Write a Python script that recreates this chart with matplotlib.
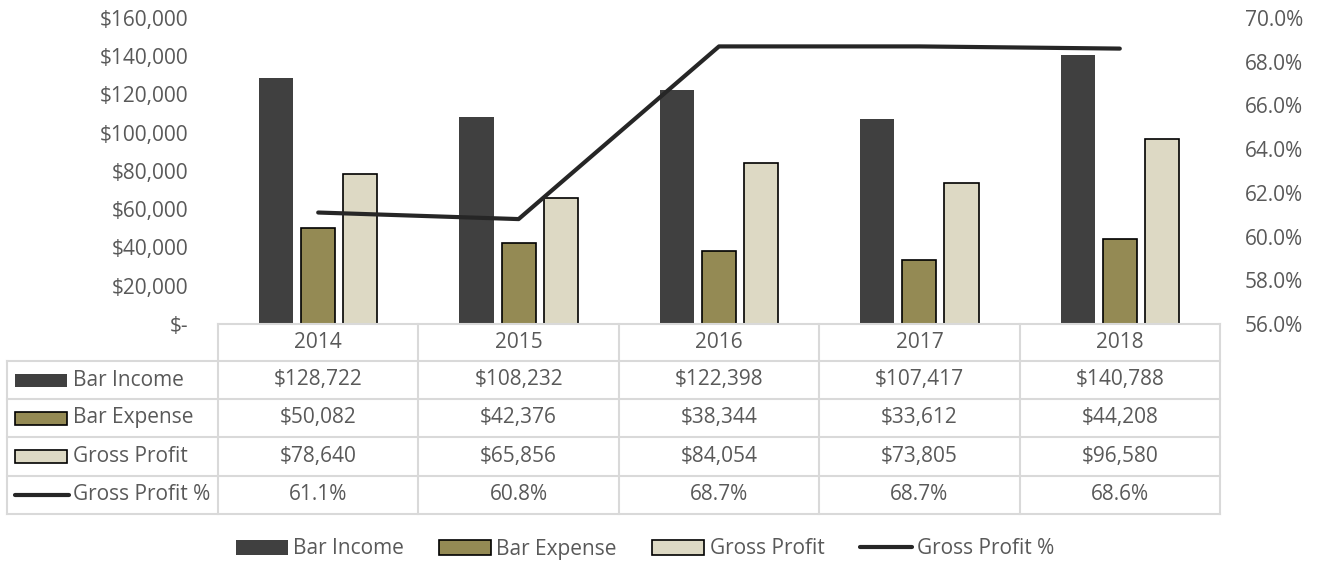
import matplotlib
matplotlib.use('Agg')
import matplotlib.pyplot as plt
from matplotlib.patches import Patch, Rectangle
from matplotlib.lines import Line2D
from matplotlib.ticker import FuncFormatter
import numpy as np

years = ['2014', '2015', '2016', '2017', '2018']
bar_income = [128722, 108232, 122398, 107417, 140788]
bar_expense = [50082, 42376, 38344, 33612, 44208]
gross_profit = [78640, 65856, 84054, 73805, 96580]
gross_profit_pct = [61.1, 60.8, 68.7, 68.7, 68.6]

series_names = ['Bar Income', 'Bar Expense', 'Gross Profit', 'Gross Profit %']

C_INC = '#404040'
C_EXP = '#948A54'
C_GP = '#DDD9C4'
C_LINE = '#262626'
TXT = '#595959'
GRID = '#D9D9D9'

plt.rcParams['font.family'] = ['Open Sans', 'DejaVu Sans']
FS = 15

W, H = 1320, 567
fig = plt.figure(figsize=(W / 100, H / 100), dpi=100)

# plot area in pixels
L, R, T, B = 218, 1220, 18, 324
ax = fig.add_axes([L / W, 1 - B / H, (R - L) / W, (B - T) / H])
x = np.arange(len(years))
bw = 0.17
off = 0.21
ax.bar(x - off, bar_income, bw, color=C_INC, zorder=2)
ax.bar(x, bar_expense, bw, color=C_EXP, edgecolor='black', linewidth=1.2, zorder=2)
ax.bar(x + off, gross_profit, bw, color=C_GP, edgecolor='black', linewidth=1.2, zorder=2)
ax.set_xlim(-0.5, len(years) - 0.5)
ax.set_ylim(0, 160000)
ax.set_yticks(np.arange(0, 160001, 20000))
ax.yaxis.set_major_formatter(FuncFormatter(lambda v, p: '$-' if v == 0 else f'${v:,.0f}'))
ax.set_xticks([])
for s in ax.spines.values():
    s.set_visible(False)
ax.tick_params(axis='y', length=0, labelsize=FS, labelcolor=TXT, pad=21.5)

ax2 = ax.twinx()
ax2.plot(x, gross_profit_pct, color=C_LINE, lw=3, solid_capstyle='round', zorder=3)
ax2.set_ylim(56, 70)
ax2.set_yticks(np.arange(56, 70.1, 2))
ax2.yaxis.set_major_formatter(FuncFormatter(lambda v, p: f'{v:.1f}%'))
for s in ax2.spines.values():
    s.set_visible(False)
ax2.tick_params(axis='y', length=0, labelsize=FS, labelcolor=TXT, pad=18)

# data table drawn on an overlay in pixel coords
tab = fig.add_axes([0, 0, 1, 1])
tab.set_xlim(0, W)
tab.set_ylim(H, 0)
tab.axis('off')
tab.patch.set_alpha(0)

rows_y = [324, 361, 399, 437, 476, 514]
col_x = np.linspace(L, R, len(years) + 1)
left = 7
lkw = dict(color=GRID, lw=1.5, zorder=1)
# header row
tab.plot([L, R], [rows_y[0], rows_y[0]], **lkw)
for yy in rows_y[1:]:
    tab.plot([left, R], [yy, yy], **lkw)
for cx in col_x:
    tab.plot([cx, cx], [rows_y[0], rows_y[-1]], **lkw)
tab.plot([left, left], [rows_y[1], rows_y[-1]], **lkw)

centers = (col_x[:-1] + col_x[1:]) / 2
for i, yr in enumerate(years):
    tab.text(centers[i], (rows_y[0] + rows_y[1]) / 2, yr, ha='center', va='center',
             fontsize=FS, color=TXT)

table_vals = [
    [f'${v:,.0f}' for v in bar_income],
    [f'${v:,.0f}' for v in bar_expense],
    [f'${v:,.0f}' for v in gross_profit],
    [f'{v:.1f}%' for v in gross_profit_pct],
]
sym = [
    dict(fc=C_INC, ec='none'),
    dict(fc=C_EXP, ec='black'),
    dict(fc=C_GP, ec='black'),
    None,
]
for r in range(4):
    yc = (rows_y[r + 1] + rows_y[r + 2]) / 2
    if sym[r] is None:
        tab.plot([15, 69], [yc, yc], color=C_LINE, lw=3, solid_capstyle='round')
    else:
        tab.add_patch(Rectangle((15, yc - 6.5), 52, 13, lw=1.2, **sym[r]))
    tab.text(73, yc, series_names[r], ha='left', va='center', fontsize=FS, color=TXT)
    for i in range(len(years)):
        tab.text(centers[i], yc, table_vals[r][i], ha='center', va='center',
                 fontsize=FS, color=TXT)

handles = [
    Patch(facecolor=C_INC, edgecolor='none'),
    Patch(facecolor=C_EXP, edgecolor='black', linewidth=1.2),
    Patch(facecolor=C_GP, edgecolor='black', linewidth=1.2),
    Line2D([0], [0], color=C_LINE, lw=3, solid_capstyle='round'),
]
leg = fig.legend(handles, series_names, loc='center', bbox_to_anchor=(645 / W, 1 - 549 / H),
                 ncol=4, frameon=False, fontsize=FS, handlelength=2.5, handletextpad=0.25,
                 columnspacing=1.7, labelcolor=TXT)

fig.savefig('out.png', dpi=100)
